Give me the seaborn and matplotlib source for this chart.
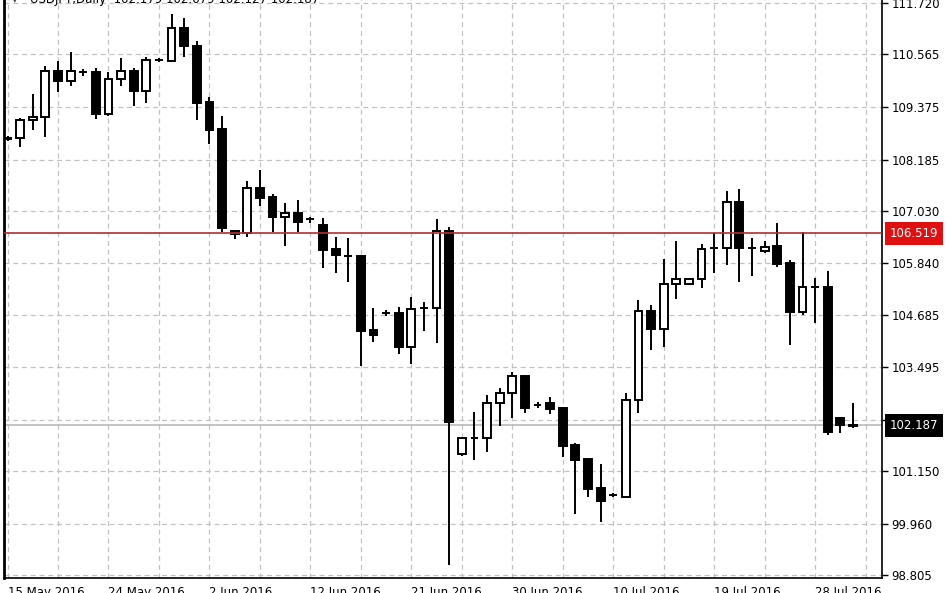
import numpy as np
import pandas as pd
import matplotlib
matplotlib.use('Agg')
import matplotlib.pyplot as plt
import matplotlib.transforms as mtransforms
import seaborn as sns

# USDJPY daily bars, 15 May - 1 Aug 2016 (broker calendar: Sundays in, Saturdays out)
opens = [108.649, 108.672, 109.079, 109.146, 110.185, 109.959, 110.160, 110.162, 109.214, 110.004,
         110.185, 109.733, 110.430, 110.411, 111.156, 110.749, 109.485, 108.875, 106.572, 106.527,
         107.543, 107.340, 106.888, 106.979, 106.840, 106.708, 106.166, 106.000, 106.008, 104.337,
         104.715, 104.721, 103.953, 104.830, 104.834, 106.572, 101.537, 101.895, 101.899, 102.689,
         102.914, 103.298, 102.640, 102.689, 102.576, 101.740, 101.424, 100.769, 100.608, 100.566,
         102.756, 104.766, 104.359, 105.376, 105.376, 105.488, 106.185, 106.188, 107.227, 106.185,
         106.121, 106.233, 105.850, 104.743, 105.305, 105.308, 102.350, 102.179]
highs = [108.717, 109.124, 109.666, 110.298, 110.411, 110.614, 110.230, 110.253, 110.162, 110.478,
         110.253, 110.501, 110.480, 111.472, 111.382, 110.862, 109.598, 109.169, 106.572, 107.701,
         107.950, 107.408, 107.204, 107.272, 106.888, 106.866, 106.437, 106.414, 106.008, 104.834,
         104.790, 104.856, 105.082, 104.969, 106.843, 106.663, 101.921, 102.485, 102.869, 103.027,
         103.389, 103.298, 102.710, 102.824, 102.598, 101.786, 101.424, 101.311, 100.660, 102.914,
         105.014, 104.901, 105.940, 106.346, 105.500, 106.279, 106.527, 107.475, 107.521, 106.414,
         106.346, 106.753, 105.917, 106.550, 105.511, 105.669, 102.350, 102.679]
lows = [108.604, 108.469, 108.853, 108.694, 109.711, 109.846, 110.072, 109.101, 109.169, 109.846,
        109.395, 109.462, 110.390, 110.411, 110.501, 109.079, 108.537, 106.550, 106.392, 106.437,
        107.137, 106.550, 106.233, 106.550, 106.753, 105.737, 105.624, 105.421, 103.524, 104.066,
        104.650, 103.795, 103.569, 104.314, 104.043, 99.031, 101.492, 101.401, 101.582, 102.169,
        102.350, 102.463, 102.580, 102.440, 101.469, 100.183, 100.566, 100.002, 100.570, 100.544,
        102.463, 103.885, 103.953, 105.037, 105.360, 105.285, 105.624, 105.805, 105.421, 105.556,
        106.076, 105.760, 103.998, 104.676, 104.495, 101.966, 102.011, 102.127]
closes = [108.672, 109.079, 109.146, 110.185, 109.959, 110.185, 110.170, 109.214, 110.004, 110.185,
          109.733, 110.433, 110.440, 111.156, 110.749, 109.462, 108.853, 106.640, 106.505, 107.543,
          107.317, 106.888, 106.979, 106.776, 106.850, 106.143, 106.030, 106.010, 104.314, 104.224,
          104.725, 103.953, 104.811, 104.838, 106.572, 102.260, 101.899, 101.903, 102.689, 102.914,
          103.298, 102.576, 102.646, 102.553, 101.718, 101.401, 100.747, 100.476, 100.614, 102.756,
          104.766, 104.359, 105.376, 105.488, 105.488, 106.166, 106.190, 107.227, 106.188, 106.190,
          106.211, 105.827, 104.743, 105.308, 105.310, 102.033, 102.190, 102.187]

label_dates = ['2016-05-15', '2016-05-24', '2016-06-02', '2016-06-12', '2016-06-21',
               '2016-06-30', '2016-07-10', '2016-07-19', '2016-07-28']
price_ticks = [98.805, 99.960, 101.150, 102.305, 103.495, 104.685, 105.840,
               107.030, 108.185, 109.375, 110.565, 111.720]
ask_price = 106.519
bid_price = 102.187
header = 'USDJPY,Daily  102.179 102.679 102.127 102.187'

days = pd.date_range('2016-05-15', '2016-08-01')
days = days[days.dayofweek != 5]
df = pd.DataFrame({'date': days, 'open': opens, 'high': highs, 'low': lows, 'close': closes})
df['pos'] = np.arange(len(df))
up = df[df['close'] >= df['open']]
down = df[df['close'] < df['open']]

sns.set_theme(style='white')
plt.rcParams['font.family'] = ['DejaVu Sans']

fig = plt.figure(figsize=(9.48, 5.93), dpi=100)
ax = fig.add_axes([4 / 948, 15 / 593, 878 / 948, 578 / 593])
ax.set_facecolor('white')

grid_kw = dict(color='#c2c2c2', lw=0.9, ls=(0, (4, 3)), zorder=0)
for p in price_ticks:
    ax.axhline(p, **grid_kw)
for k in range(0, len(df) + 4, 4):
    ax.axvline(k, **grid_kw)

ax.vlines(df['pos'], df['low'], df['high'], color='black', lw=1.4, zorder=2)
ax.bar(up['pos'], up['close'] - up['open'], bottom=up['open'], width=0.62,
       facecolor='white', edgecolor='black', linewidth=1.4, zorder=3)
ax.bar(down['pos'], down['close'] - down['open'], bottom=down['open'], width=0.62,
       facecolor='black', edgecolor='black', linewidth=1.4, zorder=3)

ax.axhline(bid_price, color='#b4b4b4', lw=1.1, zorder=1)
ax.axhline(ask_price, color='#b03030', lw=1.2, zorder=4)

ax.set_xlim(-0.28, 69.3)
ax.set_ylim(98.737, 111.788)

tick_pos = [int(np.flatnonzero(df['date'] == pd.Timestamp(d))[0]) for d in label_dates]
tick_txt = [pd.Timestamp(d).strftime('%-d %b %Y') for d in label_dates]
ax.set_xticks(tick_pos)
ax.set_xticklabels(tick_txt, ha='left', fontsize=8.5, color='black')
shift = mtransforms.ScaledTranslation(2 / 100, 0, fig.dpi_scale_trans)
for lab in ax.get_xticklabels():
    lab.set_transform(lab.get_transform() + shift)

ax.yaxis.tick_right()
ax.set_yticks(price_ticks)
ax.set_yticklabels([f'{p:.3f}' for p in price_ticks], fontsize=8.5, color='black')
ax.tick_params(axis='both', direction='out', length=4, width=1, color='black', pad=2)
ax.tick_params(axis='y', pad=3)

for side in ['left', 'right', 'bottom']:
    ax.spines[side].set_visible(True)
    ax.spines[side].set_color('black')
    ax.spines[side].set_linewidth(1.2)
ax.spines['left'].set_linewidth(2)
ax.spines['top'].set_visible(False)

lab_tr = mtransforms.blended_transform_factory(ax.transAxes, ax.transData)
box_kw = dict(transform=lab_tr, ha='left', va='center', fontsize=8.5, color='white', zorder=6)
ax.text(1.009, ask_price, f'{ask_price:.3f}',
        bbox=dict(boxstyle='square,pad=0.42', fc='#e01010', ec='none'), **box_kw)
ax.text(1.009, bid_price, f'{bid_price:.3f}',
        bbox=dict(boxstyle='square,pad=0.42', fc='black', ec='none'), **box_kw)

fig.text(12 / 948, 1.0, '▾', ha='left', va='center', fontsize=8, color='#444444')
fig.text(30 / 948, 1.0, header, ha='left', va='center', fontsize=8.5, color='black')

fig.savefig('out.png', dpi=100, facecolor='white')
